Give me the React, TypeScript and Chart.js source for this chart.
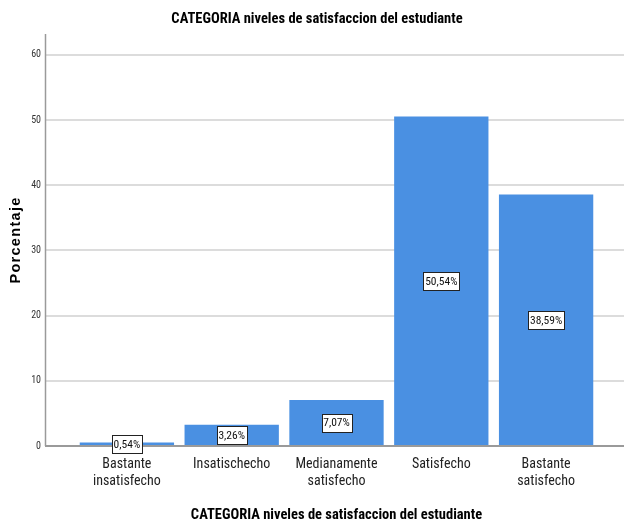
import React, { useEffect, useRef } from 'react';
import { Chart, registerables } from 'chart.js';

Chart.register(...registerables);

const categories: string[][] = [
  ['Bastante', 'insatisfecho'],
  ['Insatischecho'],
  ['Medianamente', 'satisfecho'],
  ['Satisfecho'],
  ['Bastante', 'satisfecho'],
];
const percentages: number[] = [0.54, 3.26, 7.07, 50.54, 38.59];
const yTicks: number[] = [0, 10, 20, 30, 40, 50, 60];
const chartTitle = 'CATEGORIA niveles de satisfaccion del estudiante';
const xTitle = 'CATEGORIA niveles de satisfaccion del estudiante';
const yTitle = 'Porcentaje';

const COND = 'Roboto, "Liberation Sans", sans-serif';
const REGULAR = '"Liberation Sans", Arial, sans-serif';
const BAR_COLOR = '#4a90e2';

const framePlugin = {
  id: 'spssFrame',
  beforeDatasetsDraw(chart: any) {
    const { ctx, chartArea } = chart;
    const y = chart.scales.y;
    ctx.save();
    ctx.strokeStyle = '#dcdcdc';
    ctx.lineWidth = 2;
    yTicks.forEach((v) => {
      if (v === 0) return;
      const py = Math.round(y.getPixelForValue(v));
      ctx.beginPath();
      ctx.moveTo(46, py);
      ctx.lineTo(chart.width, py);
      ctx.stroke();
    });
    ctx.strokeStyle = '#9a9a9a';
    ctx.lineWidth = 1.5;
    ctx.beginPath();
    ctx.moveTo(45.5, chartArea.top);
    ctx.lineTo(45.5, chartArea.bottom);
    ctx.stroke();
    ctx.restore();
  },
  afterDatasetsDraw(chart: any) {
    const { ctx, chartArea } = chart;
    const y = chart.scales.y;
    ctx.save();
    // x axis line
    ctx.strokeStyle = '#9a9a9a';
    ctx.lineWidth = 2;
    const py0 = y.getPixelForValue(0);
    ctx.beginPath();
    ctx.moveTo(45, py0);
    ctx.lineTo(chart.width, py0);
    ctx.stroke();

    // data labels
    const meta = chart.getDatasetMeta(0);
    ctx.font = `condensed 11.5px ${COND}`;
    ctx.textAlign = 'center';
    ctx.textBaseline = 'middle';
    meta.data.forEach((bar: any, i: number) => {
      const label = percentages[i].toFixed(2).replace('.', ',') + '%';
      const cx = bar.x;
      const cy = (bar.y + bar.base) / 2;
      const w = Math.ceil(ctx.measureText(label).width) + 3;
      const h = 18;
      const bx = Math.round(cx - w / 2) + 0.5;
      const by = Math.round(cy - h / 2) + 0.5;
      ctx.fillStyle = '#ffffff';
      ctx.fillRect(bx, by, w, h);
      ctx.strokeStyle = '#222222';
      ctx.lineWidth = 1;
      ctx.strokeRect(bx, by, w, h);
      ctx.fillStyle = '#111111';
      ctx.fillText(label, cx, cy + 0.5);
    });

    // chart title
    ctx.font = `bold condensed 14.5px ${COND}`;
    ctx.fillStyle = '#000000';
    ctx.textAlign = 'center';
    ctx.textBaseline = 'middle';
    ctx.fillText(chartTitle, 317, 19.5);

    // y axis title
    ctx.translate(16, (chartArea.top + chartArea.bottom) / 2);
    ctx.rotate(-Math.PI / 2);
    ctx.font = `bold 14.5px ${REGULAR}`;
    (ctx as any).letterSpacing = '1.3px';
    ctx.fillStyle = '#000000';
    ctx.textAlign = 'center';
    ctx.textBaseline = 'middle';
    ctx.fillText(yTitle, 0, 0);
    ctx.restore();
  },
};

export default function App() {
  const canvasRef = useRef<HTMLCanvasElement | null>(null);

  useEffect(() => {
    if (!canvasRef.current) return;
    const chart = new Chart(canvasRef.current, {
      type: 'bar',
      data: {
        labels: categories,
        datasets: [
          {
            data: percentages,
            backgroundColor: BAR_COLOR,
            borderWidth: 0,
            barPercentage: 0.9,
            categoryPercentage: 1,
          },
        ],
      },
      options: {
        responsive: false,
        animation: false,
        devicePixelRatio: 1,
        layout: { padding: { left: 0, right: 25.5, top: 34, bottom: 0 } },
        plugins: {
          legend: { display: false },
          tooltip: { enabled: false },
          title: { display: false },
        },
        scales: {
          x: {
            type: 'category',
            offset: true,
            grid: { display: false, drawTicks: false },
            border: { display: false },
            ticks: {
              autoSkip: false,
              maxRotation: 0,
              minRotation: 0,
              padding: 10,
              color: '#222222',
              font: { family: COND, weight: 'condensed', size: 14, lineHeight: 1.21 },
            },
            title: {
              display: true,
              text: xTitle,
              color: '#000000',
              font: { family: COND, size: 14.5, weight: 'bold condensed', lineHeight: 1.2 },
              padding: { top: 0, bottom: -1.5 },
            },
            afterFit(scale: any) {
              scale.height = 77;
              scale.paddingLeft = 0;
              scale.paddingRight = 0;
            },
          },
          y: {
            type: 'linear',
            min: 0,
            max: 63.2,
            grid: { display: false, drawTicks: false },
            border: { display: false },
            ticks: {
              padding: 33.5,
              color: '#333333',
              font: { family: COND, weight: 'condensed', size: 10 },
            },
            afterBuildTicks(scale: any) {
              scale.ticks = yTicks.map((v) => ({ value: v }));
            },
            afterFit(scale: any) {
              scale.width = 74.5;
              scale.paddingTop = 0;
              scale.paddingBottom = 0;
            },
          },
        },
      },
      plugins: [framePlugin],
    });
    return () => chart.destroy();
  }, []);

  return (
    <div style={{ position: 'fixed', left: 0, top: 0, width: 624, height: 523, background: '#ffffff' }}>
      <canvas ref={canvasRef} width={624} height={523} />
    </div>
  );
}
